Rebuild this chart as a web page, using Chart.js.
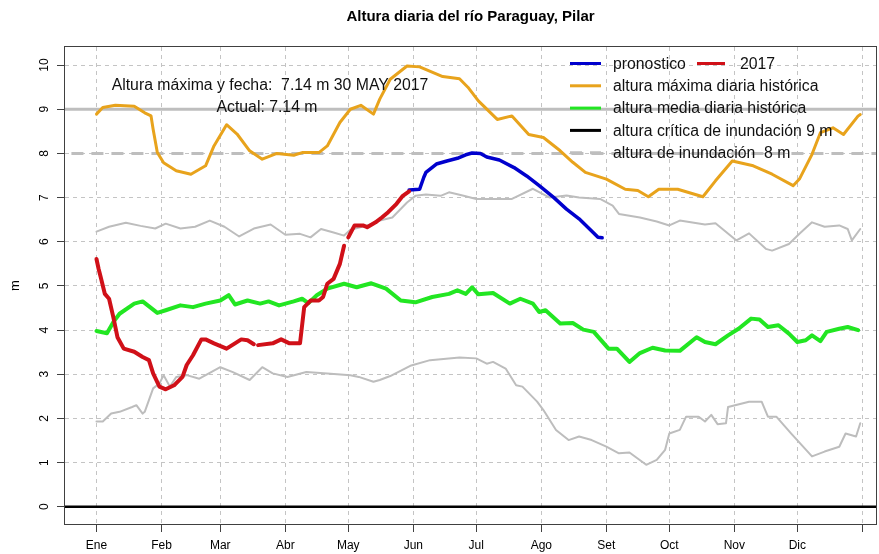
<!DOCTYPE html>
<html>
<head>
<meta charset="utf-8">
<title>Altura diaria del río Paraguay, Pilar</title>
<script src="https://cdn.jsdelivr.net/npm/chart.js@4.4.0/dist/chart.umd.min.js"></script>
<style>
    html, body { margin: 0; padding: 0; background: #fff; }
    canvas { display: block; }
</style>
</head>
<body>
<canvas id="rio" width="879" height="554"></canvas>
<script>
// -----------------------------------------------------------------------
// Datos (día del año, metros)
// -----------------------------------------------------------------------
var meses = ["Ene", "Feb", "Mar", "Abr", "May", "Jun", "Jul", "Ago", "Set", "Oct", "Nov", "Dic", ""];
var inicioMes = [1, 32, 60, 91, 121, 152, 182, 213, 244, 274, 305, 335, 366];
var ticksAltura = [0, 1, 2, 3, 4, 5, 6, 7, 8, 9, 10];

var nivelCritico = 9;
var nivelInundacion = 8;
var nivelCero = 0;

var maxHistorica = [
    [1, 8.89], [4, 9.04], [10, 9.09], [19, 9.07], [24, 8.92], [27, 8.85], [28, 8.55], [30, 8.02],
    [33, 7.79], [39, 7.61], [46, 7.53], [53, 7.72], [57, 8.17], [63, 8.65], [68, 8.44], [74, 8.06],
    [80, 7.87], [87, 8.0], [95, 7.96], [99, 8.02], [107, 8.02], [111, 8.17], [117, 8.7], [122, 9.0],
    [127, 9.09], [133, 8.89], [136, 9.23], [141, 9.68], [149, 9.98], [155, 9.96], [166, 9.74],
    [174, 9.69], [178, 9.5], [183, 9.19], [192, 8.77], [199, 8.85], [207, 8.43], [214, 8.36],
    [222, 8.06], [228, 7.8], [234, 7.57], [244, 7.42], [253, 7.19], [259, 7.16], [264, 7.02],
    [269, 7.19], [278, 7.19], [290, 7.02], [296, 7.38], [304, 7.83], [314, 7.72], [323, 7.53],
    [333, 7.27], [336, 7.42], [342, 7.98], [346, 8.47], [352, 8.58], [357, 8.43], [364, 8.85], [365, 8.88]
];

var mediaHistorica = [
    [1, 3.98], [6, 3.93], [9, 4.18], [12, 4.37], [19, 4.6], [23, 4.65], [30, 4.39], [34, 4.45],
    [41, 4.56], [47, 4.52], [53, 4.6], [60, 4.67], [64, 4.79], [67, 4.58], [73, 4.67], [79, 4.6],
    [83, 4.65], [88, 4.56], [95, 4.65], [99, 4.71], [102, 4.61], [106, 4.79], [111, 4.94], [119, 5.05],
    [125, 4.97], [132, 5.06], [139, 4.94], [146, 4.67], [153, 4.63], [161, 4.75], [169, 4.82],
    [173, 4.9], [177, 4.82], [180, 4.97], [183, 4.81], [190, 4.84], [198, 4.6], [203, 4.71],
    [209, 4.6], [212, 4.41], [215, 4.45], [222, 4.15], [228, 4.16], [233, 4.01], [238, 3.96],
    [245, 3.58], [249, 3.58], [255, 3.28], [260, 3.48], [266, 3.6], [272, 3.54], [279, 3.53],
    [287, 3.84], [291, 3.73], [296, 3.68], [302, 3.88], [307, 4.03], [313, 4.26], [317, 4.24],
    [321, 4.07], [326, 4.11], [331, 3.92], [335, 3.73], [339, 3.77], [342, 3.88], [346, 3.75],
    [349, 3.96], [355, 4.03], [359, 4.07], [364, 4.0]
];

var bandaSuperior = [
    [1, 6.23], [7, 6.34], [15, 6.43], [22, 6.36], [29, 6.3], [34, 6.41], [41, 6.3], [48, 6.34],
    [55, 6.48], [62, 6.34], [69, 6.12], [76, 6.3], [84, 6.39], [91, 6.16], [98, 6.18], [103, 6.1],
    [108, 6.29], [114, 6.21], [119, 6.14], [122, 6.27], [130, 6.37], [136, 6.48], [142, 6.55],
    [149, 6.89], [153, 7.04], [158, 7.07], [165, 7.04], [169, 7.12], [176, 7.04], [182, 6.97],
    [199, 6.97], [209, 7.2], [217, 7.0], [225, 7.05], [231, 7.0], [241, 6.97], [247, 6.82],
    [250, 6.63], [260, 6.55], [268, 6.46], [274, 6.37], [279, 6.48], [291, 6.39], [296, 6.42],
    [306, 6.03], [312, 6.19], [320, 5.84], [323, 5.8], [331, 5.95], [336, 6.18], [342, 6.44],
    [348, 6.34], [355, 6.37], [359, 6.29], [361, 6.03], [365, 6.29]
];

var bandaInferior = [
    [1, 1.93], [4, 1.93], [8, 2.11], [12, 2.15], [18, 2.26], [20, 2.3], [23, 2.11], [24, 2.15],
    [28, 2.68], [31, 2.79], [33, 2.98], [36, 2.72], [39, 2.94], [44, 2.98], [50, 2.9], [60, 3.16],
    [66, 3.05], [74, 2.87], [80, 3.16], [85, 3.02], [92, 2.94], [101, 3.05], [111, 3.02], [122, 2.98],
    [126, 2.94], [133, 2.83], [136, 2.87], [141, 2.96], [151, 3.2], [160, 3.32], [174, 3.38],
    [182, 3.36], [187, 3.24], [190, 3.28], [196, 3.13], [201, 2.75], [204, 2.72], [211, 2.38],
    [214, 2.19], [220, 1.74], [226, 1.51], [231, 1.59], [237, 1.51], [244, 1.36], [250, 1.21],
    [255, 1.23], [263, 0.95], [268, 1.06], [272, 1.29], [274, 1.66], [279, 1.74], [282, 2.04],
    [288, 2.04], [291, 1.93], [294, 2.08], [297, 1.87], [301, 1.89], [302, 2.26], [312, 2.38],
    [318, 2.38], [321, 2.04], [325, 2.04], [332, 1.66], [342, 1.14], [348, 1.25], [355, 1.36],
    [358, 1.66], [363, 1.59], [365, 1.89]
];

var anio2017 = [
    [1, 5.61], [2, 5.39], [3, 5.2], [5, 4.82], [7, 4.71], [9, 4.3], [11, 3.84], [14, 3.58],
    [19, 3.51], [23, 3.39], [26, 3.32], [28, 3.02], [31, 2.72], [34, 2.66], [38, 2.75], [42, 2.94],
    [44, 3.21], [47, 3.43], [51, 3.79], [53, 3.79], [57, 3.7], [63, 3.58], [67, 3.7], [70, 3.79],
    [73, 3.77], [76, 3.68], [77, null], [78, 3.66], [85, 3.7], [89, 3.79], [93, 3.7], [98, 3.7],
    [100, 4.52], [103, 4.67], [107, 4.67], [109, 4.75], [111, 5.05], [114, 5.16], [117, 5.5],
    [119, 5.91], [120, null], [121, 6.1], [124, 6.37], [128, 6.37], [130, 6.33], [134, 6.44],
    [137, 6.55], [140, 6.67], [144, 6.86], [147, 7.04], [150, 7.14]
];

var pronostico = [
    [150, 7.17], [155, 7.19], [157, 7.46], [158, 7.57], [163, 7.76], [168, 7.83], [173, 7.89],
    [177, 7.97], [180, 8.01], [184, 8.0], [187, 7.92], [193, 7.85], [200, 7.68], [206, 7.49],
    [212, 7.27], [219, 7.0], [225, 6.74], [231, 6.52], [236, 6.29], [240, 6.1], [242, 6.09]
];

var textoMaximo = "Altura máxima y fecha:  7.14 m 30 MAY 2017";
var textoActual = "Actual: 7.14 m";

// -----------------------------------------------------------------------
var FUENTE = "'Liberation Sans', Arial, sans-serif";
Chart.defaults.font.family = FUENTE;

function puntos(arr) {
    return arr.map(function (p) { return { x: p[0], y: p[1] }; });
}
function nivel(v) {
    return [{ x: -30, y: v }, { x: 400, y: v }];
}
function serie(data, color, ancho, extra) {
    var d = {
        data: data,
        borderColor: color,
        borderWidth: ancho,
        pointRadius: 0,
        tension: 0,
        fill: false,
        spanGaps: false,
        borderJoinStyle: "round",
        borderCapStyle: "round",
    };
    return Object.assign(d, extra || {});
}

var leyenda = [
    { texto: "pronostico", color: "#0000cd", dash: [] },
    { texto: "altura máxima diaria histórica", color: "#e8a31c", dash: [] },
    { texto: "altura media diaria histórica", color: "#22e622", dash: [] },
    { texto: "altura crítica de inundación 9 m", color: "#000000", dash: [] },
    { texto: "altura de inundación  8 m", color: "#bebebe", dash: [12, 8] },
];

var decoracion = {
    id: "decoracion",
    afterDraw: function (c) {
        var ctx = c.ctx;
        var a = c.chartArea;
        ctx.save();
        // marco
        ctx.strokeStyle = "#404040";
        ctx.lineWidth = 1;
        ctx.setLineDash([]);
        ctx.strokeRect(a.left - 0.5, a.top - 0.5, a.right - a.left + 1, a.bottom - a.top + 1);

        // titulo
        ctx.fillStyle = "#000";
        ctx.font = "bold 15px " + FUENTE;
        ctx.textAlign = "center";
        ctx.textBaseline = "middle";
        ctx.fillText("Altura diaria del río Paraguay, Pilar", (a.left + a.right) / 2, 17);

        // textos de la altura máxima
        ctx.font = "15.8px " + FUENTE;
        ctx.fillStyle = "#111";
        ctx.fillText(textoMaximo, 270, 86);
        ctx.fillText(textoActual, 267, 108);

        // leyenda
        ctx.textAlign = "left";
        ctx.lineWidth = 3;
        leyenda.forEach(function (it, i) {
            var y = 63.5 + i * 22.3;
            ctx.strokeStyle = it.color;
            ctx.setLineDash(it.dash);
            ctx.beginPath();
            ctx.moveTo(570, y);
            ctx.lineTo(601, y);
            ctx.stroke();
            ctx.fillText(it.texto, 613, y + 1);
        });
        ctx.setLineDash([]);
        ctx.strokeStyle = "#d01018";
        ctx.beginPath();
        ctx.moveTo(697, 63.5);
        ctx.lineTo(725, 63.5);
        ctx.stroke();
        ctx.fillText("2017", 740, 64.5);
        ctx.restore();
    }
};

var ctx = document.getElementById("rio").getContext("2d");
var chart = new Chart(ctx, {
    type: "line",
    data: {
        datasets: [
            serie(puntos(anio2017), "#d01018", 4),
            serie(puntos(pronostico), "#0000cd", 3.5),
            serie(puntos(maxHistorica), "#e8a31c", 3),
            serie(puntos(mediaHistorica), "#22e622", 4),
            serie(puntos(bandaSuperior), "#bdbdbd", 2),
            serie(puntos(bandaInferior), "#bdbdbd", 2),
            serie(nivel(nivelCero), "#000000", 2.5),
            serie(nivel(nivelInundacion), "#bebebe", 3, { borderDash: [12, 8], borderCapStyle: "butt" }),
            serie(nivel(nivelCritico), "#bebebe", 3),
        ],
    },
    options: {
        responsive: false,
        animation: false,
        events: [],
        layout: {
            padding: { top: 47, right: 3, left: 0, bottom: 0 },
        },
        plugins: {
            legend: { display: false },
            tooltip: { enabled: false },
            title: { display: false },
        },
        scales: {
            x: {
                type: "linear",
                min: -14,
                max: 372.5,
                afterBuildTicks: function (s) {
                    s.ticks = inicioMes.map(function (v) { return { value: v }; });
                },
                afterFit: function (s) { s.height = 30; },
                ticks: {
                    autoSkip: false,
                    maxRotation: 0,
                    padding: 6,
                    color: "#000",
                    font: { size: 12 },
                    callback: function (v, i) { return meses[i]; },
                },
                grid: {
                    color: "#c4c4c4",
                    lineWidth: 1,
                    tickColor: "#404040",
                    tickLength: 8,
                    tickBorderDash: [],
                },
                border: { display: false, dash: [4, 4] },
            },
            y: {
                min: -0.39,
                max: 10.41,
                afterBuildTicks: function (s) {
                    s.ticks = ticksAltura.map(function (v) { return { value: v }; });
                },
                afterFit: function (s) { s.width = 65; },
                ticks: {
                    minRotation: 90,
                    maxRotation: 90,
                    crossAlign: "center",
                    padding: 6,
                    color: "#000",
                    font: { size: 12 },
                },
                grid: {
                    color: "#c4c4c4",
                    lineWidth: 1,
                    tickColor: "#404040",
                    tickLength: 8,
                    tickBorderDash: [],
                },
                border: { display: false, dash: [4, 4] },
                title: {
                    display: true,
                    text: "m",
                    color: "#000",
                    font: { size: 13 },
                    padding: { top: 8, bottom: 0 },
                },
            },
        },
    },
    plugins: [decoracion],
});
</script>
</body>
</html>
